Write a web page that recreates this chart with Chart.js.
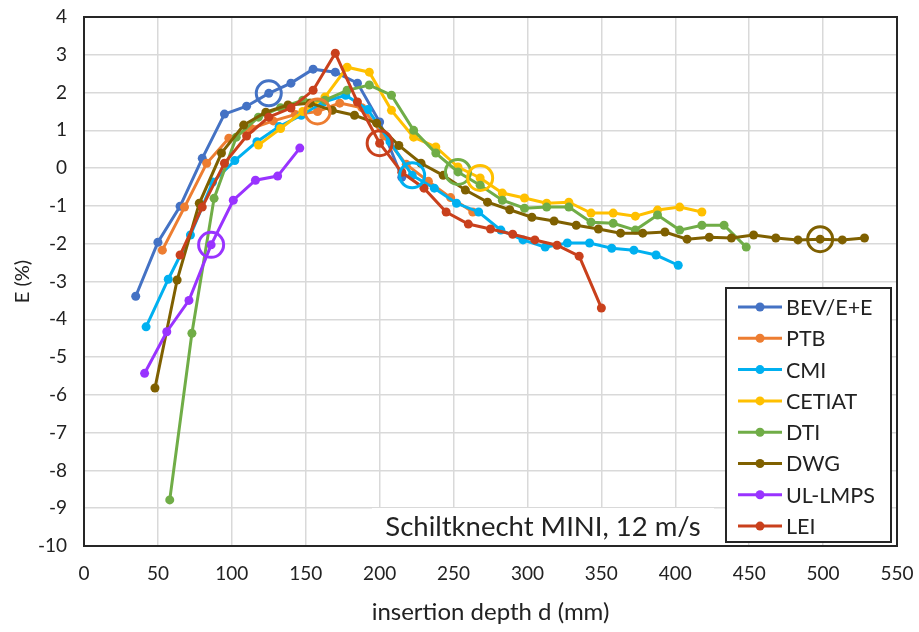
<!DOCTYPE html>
<html>
<head>
<meta charset="utf-8">
<script src="https://cdn.jsdelivr.net/npm/chart.js@4.4.1/dist/chart.umd.min.js"></script>
<style>
  html, body { margin: 0; padding: 0; background: #ffffff; }
  #wrap { width: 919px; height: 632px; }
</style>
</head>
<body>
<div id="wrap"><canvas id="chart" width="919" height="632"></canvas></div>
<script>
// Deviation E (%) versus insertion depth d (mm), one series per laboratory
const seriesNames  = ['BEV/E+E', 'PTB', 'CMI', 'CETIAT', 'DTI', 'DWG', 'UL-LMPS', 'LEI'];
const seriesColors = ['#4472C4', '#ED7D31', '#00B0F0', '#FFC000', '#70AD47', '#7F6000', '#9933FF', '#C9401C'];

const bevD = [35, 50, 65, 80, 95, 110, 125, 140, 155, 170, 185, 200, 215];
const bevE = [-3.39, -1.96, -1.01, 0.26, 1.43, 1.64, 1.98, 2.25, 2.62, 2.54, 2.25, 1.22, -0.24];

const ptbD = [53, 68, 83, 98, 113, 128, 143, 158, 173, 188, 203, 218, 233, 248, 263];
const ptbE = [-2.17, -1.03, 0.13, 0.79, 1.05, 1.25, 1.42, 1.5, 1.72, 1.6, 0.85, 0.1, -0.35, -0.78, -1.16];

const cmiD = [42, 57, 72, 87, 102, 117, 132, 147, 162, 177, 192, 207, 222, 237, 252, 267, 282, 297, 312, 327, 342, 357, 372, 387, 402];
const cmiE = [-4.2, -2.94, -1.77, -0.37, 0.2, 0.7, 1.1, 1.4, 1.75, 1.93, 1.55, 0.7, -0.19, -0.53, -0.93, -1.16, -1.64, -1.9, -2.09, -1.98, -1.98, -2.12, -2.17, -2.3, -2.57];

const cetiatD = [118, 133, 148, 163, 178, 193, 208, 223, 238, 253, 268, 283, 298, 313, 328, 343, 358, 373, 388, 403, 418];
const cetiatE = [0.61, 1.05, 1.5, 1.88, 2.67, 2.54, 1.53, 0.82, 0.56, 0.03, -0.26, -0.66, -0.79, -0.93, -0.9, -1.19, -1.19, -1.27, -1.11, -1.03, -1.16];

const dtiD = [58, 73, 88, 103, 118, 133, 148, 163, 178, 193, 208, 223, 238, 253, 268, 283, 298, 313, 328, 343, 358, 373, 388, 403, 418, 433, 448];
const dtiE = [-8.78, -4.37, -0.8, 0.82, 1.35, 1.6, 1.8, 1.8, 2.06, 2.2, 1.93, 1.0, 0.4, -0.1, -0.45, -0.85, -1.06, -1.03, -1.03, -1.43, -1.46, -1.64, -1.24, -1.64, -1.51, -1.51, -2.09];

const dwgD = [48, 63, 78, 93, 108, 123, 138, 153, 168, 183, 198, 213, 228, 243, 258, 273, 288, 303, 318, 333, 348, 363, 378, 393, 408, 423, 438, 453, 468, 483, 498, 513, 528];
const dwgE = [-5.82, -2.96, -0.93, 0.4, 1.14, 1.48, 1.67, 1.72, 1.53, 1.4, 1.19, 0.6, 0.13, -0.19, -0.58, -0.9, -1.1, -1.3, -1.4, -1.51, -1.61, -1.72, -1.72, -1.69, -1.88, -1.83, -1.85, -1.77, -1.85, -1.9, -1.88, -1.9, -1.85];

const ulD = [41, 56, 71, 86, 101, 116, 131, 146];
const ulE = [-5.43, -4.33, -3.5, -2.03, -0.85, -0.32, -0.21, 0.53];

const leiD = [65, 80, 95, 110, 125, 140, 155, 170, 185, 200, 215, 230, 245, 260, 275, 290, 305, 320, 335, 350];
const leiE = [-2.3, -1.03, 0.13, 0.85, 1.35, 1.59, 2.06, 3.04, 1.75, 0.66, -0.11, -0.53, -1.16, -1.48, -1.61, -1.75, -1.9, -2.04, -2.33, -3.7];

// Highlighted reference depth for each laboratory (ringed point)
const ringD = [125, 158, 222, 268, 253, 498, 86, 200];
const ringE = [1.98, 1.5, -0.19, -0.26, -0.1, -1.88, -2.03, 0.66];

const xTicks = { min: 0, max: 550, step: 50 };
const yTicks = { min: -10, max: 4, step: 1 };

const noteText = 'Schiltknecht MINI, 12 m/s';
const xTitle = 'insertion depth d (mm)';
const yTitle = 'E (%)';

const depthSets = [bevD, ptbD, cmiD, cetiatD, dtiD, dwgD, ulD, leiD];
const errorSets = [bevE, ptbE, cmiE, cetiatE, dtiE, dwgE, ulE, leiE];

const FONT = 'Lato';
const TEXT = '#222222';

const datasets = [];
seriesNames.forEach((name, i) => {
  datasets.push({
    label: name,
    data: depthSets[i].map((d, k) => ({ x: d, y: errorSets[i][k] })),
    showLine: true,
    borderColor: seriesColors[i],
    backgroundColor: seriesColors[i],
    borderWidth: 3,
    pointRadius: 4.5,
    pointBorderWidth: 0,
    pointBackgroundColor: seriesColors[i],
    tension: 0,
    order: 10 - i
  });
});
seriesNames.forEach((name, i) => {
  datasets.push({
    label: name + ' ring',
    isRing: true,
    data: [{ x: ringD[i], y: ringE[i] }],
    showLine: false,
    pointRadius: 12.5,
    pointBorderWidth: 3,
    pointBorderColor: seriesColors[i],
    pointBackgroundColor: 'rgba(0,0,0,0)',
    order: 0
  });
});

// White text box with the instrument and velocity
const noteBox = {
  id: 'noteBox',
  beforeDatasetsDraw(chart) {
    const { ctx, chartArea } = chart;
    ctx.save();
    ctx.fillStyle = '#ffffff';
    ctx.fillRect(372, 508, 342, chartArea.bottom - 508);
    ctx.fillStyle = TEXT;
    ctx.font = '27.5px ' + FONT;
    ctx.textAlign = 'center';
    ctx.textBaseline = 'middle';
    ctx.fillText(noteText, 543, 527);
    ctx.restore();
  }
};

// Frame around the plot area
const plotFrame = {
  id: 'plotFrame',
  afterDatasetsDraw(chart) {
    const { ctx, chartArea: a } = chart;
    ctx.save();
    ctx.strokeStyle = '#262626';
    ctx.lineWidth = 2;
    ctx.strokeRect(a.left, a.top, a.right - a.left, a.bottom - a.top);
    ctx.restore();
  }
};

// Legend box inside the plot area
const legendBox = {
  id: 'legendBox',
  afterDraw(chart) {
    const ctx = chart.ctx;
    const x0 = 726, y0 = 288, w = 165, h = 254;
    ctx.save();
    ctx.fillStyle = '#ffffff';
    ctx.fillRect(x0, y0, w, h);
    ctx.strokeStyle = '#262626';
    ctx.lineWidth = 2;
    ctx.strokeRect(x0, y0, w, h);
    chart.data.datasets.forEach((ds, i) => {
      if (ds.isRing) return;
      const y = y0 + 19 + i * 31.3;
      ctx.strokeStyle = ds.borderColor;
      ctx.lineWidth = 3;
      ctx.beginPath();
      ctx.moveTo(738, y);
      ctx.lineTo(782, y);
      ctx.stroke();
      ctx.fillStyle = ds.borderColor;
      ctx.beginPath();
      ctx.arc(760, y, 4.5, 0, Math.PI * 2);
      ctx.fill();
      ctx.fillStyle = TEXT;
      ctx.font = '21.5px ' + FONT;
      ctx.textAlign = 'left';
      ctx.textBaseline = 'middle';
      ctx.fillText(ds.label, 786, y + 1);
    });
    ctx.restore();
  }
};

new Chart(document.getElementById('chart'), {
  type: 'scatter',
  data: { datasets },
  options: {
    responsive: false,
    animation: false,
    events: [],
    layout: { padding: { top: 17, right: 22, bottom: 0, left: 0 } },
    plugins: { legend: { display: false }, tooltip: { enabled: false } },
    scales: {
      x: {
        type: 'linear',
        min: xTicks.min, max: xTicks.max,
        ticks: { stepSize: xTicks.step, padding: 16, color: TEXT, font: { family: FONT, size: 19 }, maxRotation: 0 },
        grid: { color: '#d9d9d9', lineWidth: 1.5, drawTicks: false },
        border: { display: false },
        title: { display: true, text: xTitle, color: TEXT, font: { family: FONT, size: 24 }, padding: { top: 0, bottom: 5 } },
        afterFit(s) { s.height = 86; s.paddingLeft = 0; s.paddingRight = 0; }
      },
      y: {
        type: 'linear',
        min: yTicks.min, max: yTicks.max,
        ticks: { stepSize: yTicks.step, padding: 17, color: TEXT, font: { family: FONT, size: 19 } },
        grid: { color: '#d9d9d9', lineWidth: 1.5, drawTicks: false },
        border: { display: false },
        title: { display: true, text: yTitle, color: TEXT, font: { family: FONT, size: 20 }, padding: { top: 11, bottom: 0 } },
        afterFit(s) { s.width = 84; s.paddingTop = 0; s.paddingBottom = 0; }
      }
    }
  },
  plugins: [noteBox, plotFrame, legendBox]
});
</script>
</body>
</html>
